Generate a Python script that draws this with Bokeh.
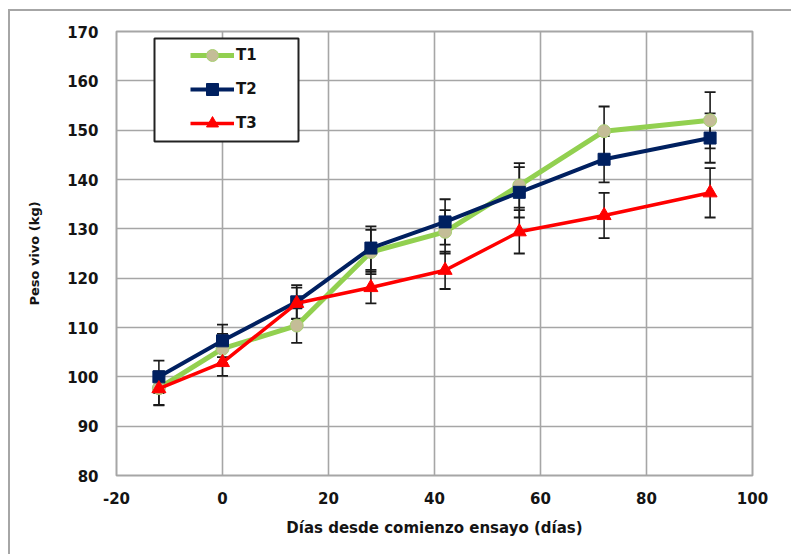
from bokeh.plotting import figure
from bokeh.models import (ColumnDataSource, Whisker, TeeHead, Legend, LegendItem,
                          FixedTicker, BoxAnnotation)
from bokeh.embed import file_html
from bokeh.resources import INLINE

# ---- data ----
days = [-12, 0, 14, 28, 42, 56, 72, 92]
t1 = [97.7, 105.7, 110.4, 125.3, 129.4, 138.8, 149.8, 152.0]
t2 = [100.0, 107.3, 115.2, 126.1, 131.4, 137.4, 144.1, 148.4]
t3 = [97.6, 102.9, 114.9, 118.1, 121.6, 129.4, 132.7, 137.3]
t1_err = [3.4, 3.0, 3.5, 4.5, 4.4, 4.5, 5.0, 5.7]
t2_err = [3.3, 3.3, 3.4, 4.4, 4.6, 5.1, 4.7, 5.0]
t3_err = [3.4, 2.7, 3.2, 3.2, 3.8, 4.4, 4.6, 5.0]
x_ticks = [-20, 0, 20, 40, 60, 80, 100]
x_tick_labels = ["-20", "0", "20", "40", "60", "80", "100"]
y_ticks = [80, 90, 100, 110, 120, 130, 140, 150, 160, 170]
names = ["T1", "T2", "T3"]

FONT = "DejaVu Sans"
GRID = "#a6a6a6"

p = figure(width=783, height=545, output_backend="svg", toolbar_location=None,
           x_range=(-20, 100), y_range=(80, 170),
           min_border_left=106, min_border_top=20, min_border_right=41, min_border_bottom=81)
p.styles = {"border-left": "2px solid #a6a6a6", "border-top": "2px solid #a6a6a6",
            "margin-left": "8px", "margin-top": "9px"}
p.background_fill_color = "white"
p.border_fill_color = "white"
p.outline_line_color = GRID
p.outline_line_width = 2

for g in (p.xgrid, p.ygrid):
    g.grid_line_color = GRID
    g.grid_line_width = 1.6
p.xaxis.ticker = FixedTicker(ticks=x_ticks)
p.xaxis.major_label_overrides = {t: s for t, s in zip(x_ticks, x_tick_labels)}
p.yaxis.ticker = FixedTicker(ticks=y_ticks)
p.xaxis.minor_tick_line_color = None
p.yaxis.minor_tick_line_color = None
for ax in (p.xaxis, p.yaxis):
    ax.axis_line_color = None
    ax.major_tick_line_color = None
    ax.major_tick_out = 0
    ax.major_tick_in = 0
    ax.major_label_text_font = FONT
    ax.major_label_text_font_style = "bold"
    ax.major_label_text_font_size = "15px"
    ax.major_label_text_color = "#141414"
    ax.axis_label_text_font = FONT
    ax.axis_label_text_font_style = "bold"
    ax.axis_label_text_color = "#141414"
p.yaxis.major_label_standoff = 18
p.xaxis.major_label_standoff = 16
p.xaxis.axis_label = "Días desde comienzo ensayo (días)"
p.xaxis.axis_label_text_font_size = "15px"
p.xaxis.axis_label_standoff = 12
p.yaxis.axis_label = "Peso vivo (kg)"
p.yaxis.axis_label_text_font_size = "13px"
p.yaxis.axis_label_standoff = 22

series = [
    (t1, t1_err, "#92D050", 5, "circle", "#C4BD97", "#A8D070", 13),
    (t2, t2_err, "#002060", 4, "square", "#002060", "#002060", 12),
    (t3, t3_err, "#FF0000", 3.5, "triangle", "#FF0000", "#FF0000", 14),
]
items = []
for name, (vals, err, lc, lw, mk, fc, mc, sz) in zip(names, series):
    src = ColumnDataSource(dict(x=days, y=vals,
                                lo=[v - e for v, e in zip(vals, err)],
                                hi=[v + e for v, e in zip(vals, err)]))
    w = Whisker(source=src, base="x", lower="lo", upper="hi", level="underlay",
                line_color="#1a1a1a", line_width=1.6,
                upper_head=TeeHead(size=11, line_color="#1a1a1a", line_width=1.8),
                lower_head=TeeHead(size=11, line_color="#1a1a1a", line_width=1.8))
    p.add_layout(w)
    r1 = p.line("x", "y", source=src, line_color=lc, line_width=lw)
    r2 = p.scatter("x", "y", source=src, marker=mk, size=sz, fill_color=fc, line_color=mc, line_width=1)
    items.append(LegendItem(label=name, renderers=[r1, r2]))

# legend frame (box drawn separately so the entries can sit off-centre like the original)
frame_box = BoxAnnotation(left=142, right=286, top=25, bottom=128,
                          left_units="canvas", right_units="canvas",
                          top_units="canvas", bottom_units="canvas",
                          fill_color="white", fill_alpha=1,
                          line_color="#222222", line_width=2, line_alpha=1)
p.add_layout(frame_box)

legend = Legend(items=items, location=(68, 331), glyph_width=44, glyph_height=30,
                spacing=4, padding=6, label_standoff=2, label_width=40,
                border_line_alpha=0, background_fill_alpha=0,
                label_text_font=FONT, label_text_font_style="bold",
                label_text_font_size="15px", label_text_color="#141414")
p.add_layout(legend)

open("out.html", "w").write(file_html(p, INLINE))
